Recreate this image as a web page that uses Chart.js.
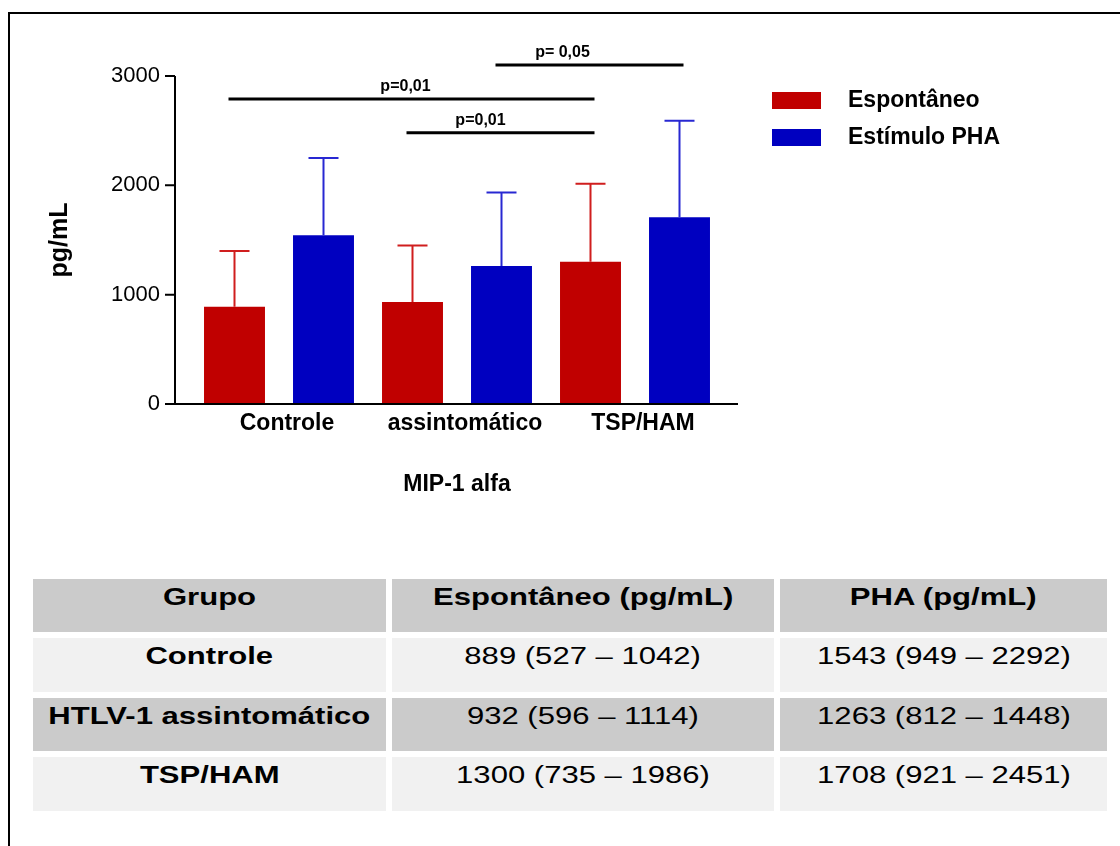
<!DOCTYPE html>
<html>
<head>
<meta charset="utf-8">
<script src="https://cdn.jsdelivr.net/npm/chart.js@4.4.1/dist/chart.umd.min.js"></script>
<style>
  html, body { margin: 0; padding: 0; background: #fff; }
  body { width: 1120px; height: 846px; position: relative; overflow: hidden; font-family: "Liberation Sans", Arial, sans-serif; }
  #frame { position: absolute; left: 8px; top: 12px; width: 1200px; height: 900px; border-top: 2px solid #000; border-left: 2px solid #000; }
  #chartBox { position: absolute; left: 0; top: 0; width: 1120px; height: 520px; }
  #summary { position: absolute; left: 27px; top: 573px; border-collapse: separate; border-spacing: 6px; }
  #summary td, #summary th { padding: 4px 0 0 0; vertical-align: top; text-align: center; font-size: 23px; line-height: 28px; color: #000; box-sizing: border-box; }
  #summary th { background: #cbcbcb; font-weight: bold; }
  #summary td.name { font-weight: bold; }
  #summary tr.light td { background: #f1f1f1; }
  #summary tr.dark td { background: #cbcbcb; }
  #summary span { display: inline-block; transform: scaleX(1.35); transform-origin: center; white-space: nowrap; }
</style>
</head>
<body>
<div id="frame"></div>
<div id="chartBox"><canvas id="mipChart" width="1120" height="520"></canvas></div>
<table id="summary">
  <thead><tr></tr></thead>
  <tbody></tbody>
</table>

<script>
// ---------- Data ----------
const groups = ['Controle', 'assintomático', 'TSP/HAM'];
const seriesNames = ['Espontâneo', 'Estímulo PHA'];
const espontaneo = [889, 932, 1300];
const estimuloPHA = [1543, 1263, 1708];
// upper end of each error bar
const espontaneoErr = [1400, 1450, 2015];
const estimuloPHAErr = [2250, 1935, 2590];

// significance brackets: [dataset, bar] -> [dataset, bar]
const sigTexts = ['p=0,01', 'p=0,01', 'p= 0,05'];
const sigLevels = [2790, 2480, 3100];
const sigFrom = [[0, 0], [0, 1], [1, 1]];
const sigTo = [[0, 2], [0, 2], [1, 2]];

// table
const tableHeaders = ['Grupo', 'Espontâneo (pg/mL)', 'PHA (pg/mL)'];
const tableGroups = ['Controle', 'HTLV-1 assintomático', 'TSP/HAM'];
const espRanges = [[527, 1042], [596, 1114], [735, 1986]];
const phaRanges = [[949, 2292], [812, 1448], [921, 2451]];

// ---------- Style ----------
const RED = '#c00000';
const BLUE = '#0000c0';
const ERR_COLORS = ['rgb(208,30,30)', 'rgb(40,40,210)'];
const FONT = '"Liberation Sans", Arial, sans-serif';
const AXIS_X = 175;       // y axis line
const AXIS_RIGHT = 738;   // end of baseline
const SIG_LABEL_SHIFT = [-6, -20, -27];

// ---------- Table ----------
function fillTable() {
  const head = document.querySelector('#summary thead tr');
  const widths = [353, 382, 327];
  tableHeaders.forEach((h, i) => {
    const th = document.createElement('th');
    th.style.width = widths[i] + 'px';
    th.style.height = '53px';
    th.innerHTML = `<span>${h}</span>`;
    head.appendChild(th);
  });
  const body = document.querySelector('#summary tbody');
  const heights = [54, 53, 54];
  tableGroups.forEach((g, i) => {
    const tr = document.createElement('tr');
    tr.className = i % 2 === 0 ? 'light' : 'dark';
    const cells = [
      g,
      `${espontaneo[i]} (${espRanges[i][0]} – ${espRanges[i][1]})`,
      `${estimuloPHA[i]} (${phaRanges[i][0]} – ${phaRanges[i][1]})`
    ];
    cells.forEach((c, j) => {
      const td = document.createElement('td');
      if (j === 0) td.className = 'name';
      td.style.height = heights[i] + 'px';
      td.innerHTML = `<span>${c}</span>`;
      tr.appendChild(td);
    });
    body.appendChild(tr);
  });
}

// ---------- Plugins ----------
const axesPlugin = {
  id: 'prismAxes',
  afterDraw(chart) {
    const { ctx } = chart;
    const y = chart.scales.y;
    const base = y.getPixelForValue(0);
    const top = y.getPixelForValue(y.max);
    ctx.save();
    ctx.strokeStyle = '#000';
    ctx.lineWidth = 2;
    ctx.beginPath();
    ctx.moveTo(AXIS_X, top);
    ctx.lineTo(AXIS_X, base);
    ctx.moveTo(AXIS_X - 1, base);
    ctx.lineTo(AXIS_RIGHT, base);
    y.ticks.forEach(t => {
      const py = y.getPixelForValue(t.value);
      ctx.moveTo(AXIS_X - 10, py);
      ctx.lineTo(AXIS_X, py);
    });
    ctx.stroke();
    ctx.restore();
  }
};

const errorBarPlugin = {
  id: 'errorBars',
  afterDatasetsDraw(chart) {
    const { ctx } = chart;
    const y = chart.scales.y;
    chart.data.datasets.forEach((ds, i) => {
      const meta = chart.getDatasetMeta(i);
      ctx.save();
      ctx.strokeStyle = ERR_COLORS[i];
      ctx.lineWidth = 2;
      meta.data.forEach((bar, j) => {
        const yCap = y.getPixelForValue(ds.errorTop[j]);
        ctx.beginPath();
        ctx.moveTo(bar.x, bar.y);
        ctx.lineTo(bar.x, yCap);
        ctx.moveTo(bar.x - 15, yCap);
        ctx.lineTo(bar.x + 15, yCap);
        ctx.stroke();
      });
      ctx.restore();
    });
  }
};

const significancePlugin = {
  id: 'significance',
  afterDraw(chart) {
    const { ctx } = chart;
    const y = chart.scales.y;
    ctx.save();
    ctx.strokeStyle = '#000';
    ctx.fillStyle = '#000';
    ctx.lineWidth = 3;
    ctx.font = `bold 16px ${FONT}`;
    ctx.textAlign = 'center';
    ctx.textBaseline = 'middle';
    sigTexts.forEach((txt, k) => {
      const a = chart.getDatasetMeta(sigFrom[k][0]).data[sigFrom[k][1]];
      const b = chart.getDatasetMeta(sigTo[k][0]).data[sigTo[k][1]];
      const py = y.getPixelForValue(sigLevels[k]);
      const x1 = a.x - 6, x2 = b.x + 4;
      ctx.beginPath();
      ctx.moveTo(x1, py);
      ctx.lineTo(x2, py);
      ctx.stroke();
      ctx.fillText(txt, (x1 + x2) / 2 + SIG_LABEL_SHIFT[k], py - 12);
    });
    ctx.restore();
  }
};

const legendPlugin = {
  id: 'sideLegend',
  afterDraw(chart) {
    const { ctx } = chart;
    ctx.save();
    ctx.font = `bold 23px ${FONT}`;
    ctx.textBaseline = 'middle';
    ctx.textAlign = 'left';
    chart.data.datasets.forEach((ds, i) => {
      const top = 92 + i * 37;
      ctx.fillStyle = ds.backgroundColor;
      ctx.fillRect(772, top, 49, 17);
      ctx.fillStyle = '#000';
      ctx.fillText(ds.label, 848, top + 9);
    });
    ctx.restore();
  }
};

// ---------- Chart ----------
function createChart() {
  const ctx = document.getElementById('mipChart').getContext('2d');
  return new Chart(ctx, {
    type: 'bar',
    data: {
      labels: groups,
      datasets: [
        { label: seriesNames[0], data: espontaneo, errorTop: espontaneoErr, backgroundColor: RED },
        { label: seriesNames[1], data: estimuloPHA, errorTop: estimuloPHAErr, backgroundColor: BLUE }
      ]
    },
    options: {
      responsive: false,
      animation: false,
      devicePixelRatio: 1,
      categoryPercentage: 1,
      barPercentage: 0.685,
      layout: { padding: { top: 76, right: 396, bottom: 0, left: 0 } },
      plugins: { legend: { display: false }, tooltip: { enabled: false } },
      scales: {
        x: {
          grid: { display: false, drawTicks: false },
          border: { display: false },
          ticks: { color: '#000', font: { family: FONT, size: 23, weight: 'bold' }, padding: 6, labelOffset: 8, maxRotation: 0 },
          title: { display: true, text: 'MIP-1 alfa', color: '#000', font: { family: FONT, size: 23, weight: 'bold' }, padding: { top: 0, bottom: 22 } },
          afterFit(scale) { scale.height = 116; }
        },
        y: {
          min: 0,
          max: 3000,
          grid: { display: false, drawTicks: false },
          border: { display: false },
          ticks: { stepSize: 1000, color: '#000', font: { family: FONT, size: 22 }, padding: 30, callback: v => String(v) },
          title: { display: true, text: 'pg/mL', color: '#000', font: { family: FONT, size: 25, weight: 'bold' }, padding: { top: 45, bottom: 0 } },
          afterFit(scale) { scale.width = 190; }
        }
      }
    },
    plugins: [errorBarPlugin, axesPlugin, significancePlugin, legendPlugin]
  });
}

fillTable();
createChart();
</script>
</body>
</html>
